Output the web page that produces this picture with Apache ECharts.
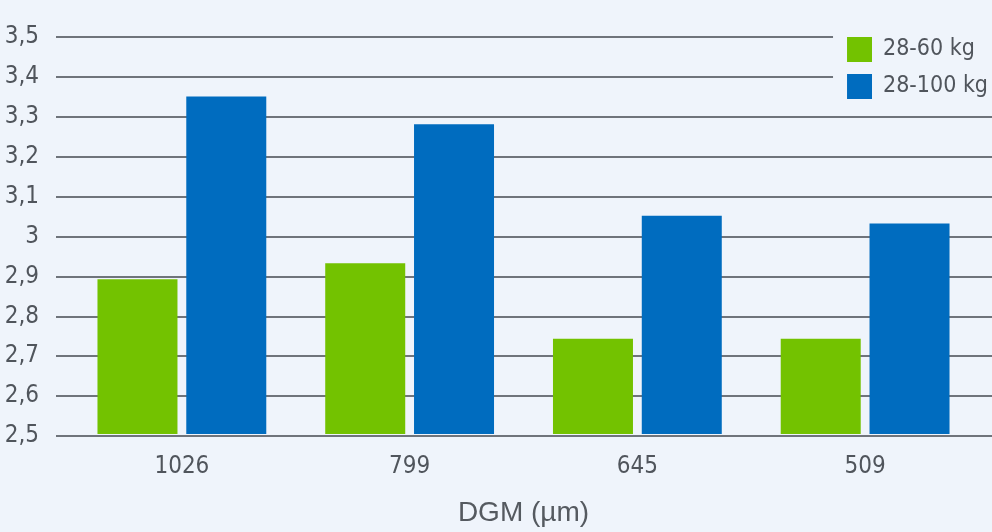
<!DOCTYPE html>
<html>
<head>
<meta charset="utf-8">
<script src="https://cdn.jsdelivr.net/npm/echarts@6/dist/echarts.min.js"></script>
<style>
html,body{margin:0;padding:0;background:#eff4fb;}
#c{width:992px;height:532px;}
</style>
</head>
<body>
<div id="c"></div>
<script>
const categories = ['1026', '799', '645', '509'];
const seriesNames = ['28-60 kg', '28-100 kg'];
const values6060 = [2.89, 2.93, 2.74, 2.74];
const values28100 = [3.35, 3.28, 3.05, 3.03];
const axisTitle = 'DGM (µm)';

const narrow = '"Liberation Sans Narrow", "DejaVu Sans Condensed", "Liberation Sans", sans-serif';
const labelColor = '#50555c';

const chart = echarts.init(document.getElementById('c'), null, {renderer: 'canvas'});
chart.setOption({
  backgroundColor: '#eff4fb',
  animation: false,
  grid: [
    {left: 56, right: 0, top: 37, bottom: 96},
    {left: 68, right: 13, top: 37, bottom: 96}
  ],
  legend: {
    data: seriesNames,
    right: 0,
    top: 30,
    orient: 'vertical',
    icon: 'rect',
    itemWidth: 25,
    itemHeight: 25,
    itemGap: 12,
    backgroundColor: '#eff4fb',
    padding: [7, 4, 10, 14],
    textStyle: {fontFamily: narrow, fontSize: 23, color: labelColor, lineHeight: 25, padding: [0, 0, 0, 6]}
  },
  xAxis: [
    {gridIndex: 0, type: 'category', data: categories, show: false},
    {
      gridIndex: 1, type: 'category', data: categories,
      axisLine: {show: false}, axisTick: {show: false},
      axisLabel: {fontFamily: narrow, fontSize: 24, color: labelColor, margin: 21},
      name: axisTitle, nameLocation: 'middle', nameGap: 65,
      nameTextStyle: {fontFamily: '"Liberation Sans", Arial, sans-serif', fontSize: 28, color: '#555a60'}
    }
  ],
  yAxis: [
    {
      gridIndex: 0, type: 'value', min: 2.5, max: 3.5, interval: 0.1,
      axisLine: {show: false}, axisTick: {show: false},
      splitLine: {lineStyle: {color: '#6f747b', width: 2}},
      axisLabel: {
        fontFamily: narrow, fontSize: 24, color: labelColor, margin: 17,
        formatter: v => String(Math.round(v * 10) / 10).replace('.', ',')
      }
    },
    {
      gridIndex: 1, type: 'value', min: 2.5, max: 3.5, interval: 0.1,
      show: false, splitLine: {show: false}
    }
  ],
  series: [
    {
      name: seriesNames[0], type: 'bar', xAxisIndex: 1, yAxisIndex: 1,
      data: values6060, barWidth: 80, barGap: '11%',
      itemStyle: {color: '#73c200'}
    },
    {
      name: seriesNames[1], type: 'bar', xAxisIndex: 1, yAxisIndex: 1,
      data: values28100, barWidth: 80, barGap: '11%',
      itemStyle: {color: '#006cbf'}
    }
  ]
});
</script>
</body>
</html>
